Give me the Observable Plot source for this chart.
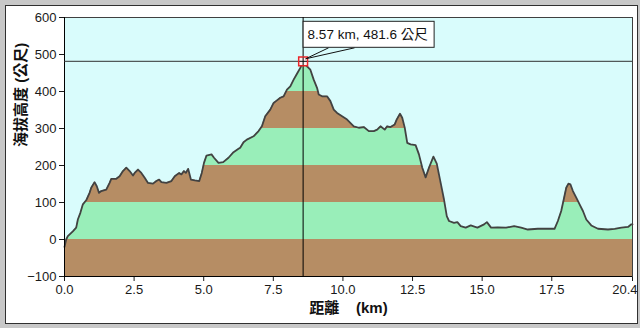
<!DOCTYPE html>
<html>
<head>
<meta charset="utf-8">
<script src="https://cdn.jsdelivr.net/npm/d3@7"></script>
<script src="https://cdn.jsdelivr.net/npm/@observablehq/plot@0.6"></script>
<style>
  html, body { margin: 0; padding: 0; background: #c8c8c8; }
  #wrap { position: relative; width: 640px; height: 328px; overflow: hidden; background: #c8c8c8; }
  #panel { position: absolute; left: 5px; top: 5px; width: 631px; height: 317px; background: #ffffff; border: 1px solid #303030; }
  #chart { position: absolute; left: 0; top: 0; }
</style>
</head>
<body>
<div id="wrap"><div id="panel"></div><div id="chart"></div></div>
<script>
// ---- data ----
const distKm = [0.0,0.06,0.12,0.3,0.42,0.48,0.57,0.66,0.78,0.9,0.96,1.08,1.16,1.24,1.32,1.5,1.62,1.68,1.86,1.98,2.1,2.22,2.34,2.46,2.52,2.64,2.76,2.88,3.0,3.18,3.3,3.4,3.48,3.66,3.84,3.96,4.12,4.2,4.29,4.36,4.44,4.54,4.68,4.84,4.93,5.01,5.1,5.28,5.37,5.53,5.7,5.89,6.07,6.25,6.31,6.43,6.55,6.79,6.97,7.09,7.21,7.39,7.51,7.63,7.75,7.87,7.99,8.11,8.23,8.35,8.47,8.57,8.71,8.83,8.95,9.07,9.13,9.25,9.43,9.55,9.67,9.79,9.97,10.15,10.39,10.57,10.75,10.93,11.11,11.23,11.35,11.5,11.59,11.71,11.86,11.93,12.05,12.13,12.22,12.31,12.43,12.61,12.73,12.85,12.97,13.09,13.25,13.37,13.51,13.63,13.73,13.81,13.99,14.11,14.23,14.41,14.59,14.83,15.07,15.17,15.32,15.56,15.86,16.15,16.4,16.64,17.0,17.36,17.6,17.72,17.84,17.93,18.02,18.1,18.17,18.26,18.38,18.5,18.62,18.74,18.92,19.16,19.52,19.76,20.0,20.24,20.36,20.4];
const elevM = [-20,0,9,22,32,54,72,95,106,126,140,155,144,126,131,135,153,164,164,171,185,194,185,173,180,189,180,167,153,151,158,162,155,153,158,171,180,176,185,180,191,162,160,158,180,207,227,230,221,207,209,221,236,245,248,263,270,279,293,306,333,351,369,376,383,387,405,414,432,448,464,481.6,468,459,432,410,392,387,387,374,351,342,333,324,306,302,304,293,293,297,306,297,306,304,311,324,340,329,302,261,257,255,230,194,168,194,224,205,153,108,63,50,45,47,36,32,38,32,41,47,32,33,32,36,32,27,29,29,29,50,77,108,140,151,149,131,113,95,77,54,38,29,27,29,32,34,41,41];
const xTicks = [0, 2.5, 5, 7.5, 10, 12.5, 15, 17.5, 20.4];
const yTicks = [-100, 0, 100, 200, 300, 400, 500, 600];
const bandLows = [-100, 0, 100, 200, 300, 400, 500];
const bandKinds = ["brown", "green", "brown", "green", "brown", "green", "brown"];
const peakKm = 8.57;
const peakElev = 481.6;
const xLabel = "距離\u00a0\u00a0\u00a0\u00a0(km)";
const yLabel = "海拔高度 (公尺)";
const peakText = "8.57 km, 481.6 公尺";

// ---- derived tables ----
const profile = distKm.map((d, i) => ({km: d, elev: elevM[i]}));
const bands = bandLows.map((lo, i) => ({lo, hi: lo + 100, kind: bandKinds[i]}));
const xMin = xTicks[0], xMax = xTicks[xTicks.length - 1];
const yMin = yTicks[0], yMax = yTicks[yTicks.length - 1];
const fmt = d3.format(".1f");

const SKY = "#d9fcfc", GREEN = "#99eeb9", BROWN = "#b68d64", LINE = "#424242";
const FONT = "'Liberation Sans', Arial, 'Noto Sans CJK TC', sans-serif";
const CJK = "'Liberation Sans', 'Noto Sans CJK TC', sans-serif";

const plot = Plot.plot({
  width: 640,
  height: 328,
  marginLeft: 64,
  marginRight: 8,
  marginTop: 17,
  marginBottom: 52,
  style: {background: "transparent", fontFamily: FONT, fontSize: "13px", color: "#1a1a1a"},
  x: {domain: [xMin, xMax], ticks: xTicks, tickFormat: d => d === xMax ? "" : fmt(d), tickSize: 5, tickPadding: 3, label: null},
  y: {domain: [yMin, yMax], ticks: yTicks, tickSize: 5, tickPadding: 3, label: null},
  marks: [
    Plot.rect(bands.filter(b => b.kind === "brown"), {x1: () => xMin, x2: () => xMax, y1: "lo", y2: "hi", fill: BROWN, inset: 0}),
    Plot.rect(bands.filter(b => b.kind === "green"), {x1: () => xMin, x2: () => xMax, y1: "lo", y2: "hi", fill: GREEN, inset: 0}),
    Plot.areaY(profile, {x: "km", y1: "elev", y2: () => yMax, fill: SKY}),
    Plot.line(profile, {x: "km", y: "elev", stroke: LINE, strokeWidth: 1.8}),
    Plot.frame({stroke: "#404040"}),
    Plot.ruleX([xMin], {stroke: "#000"}),
    Plot.ruleY([yMin], {stroke: "#000"}),
    Plot.ruleX([peakKm], {stroke: "#000", strokeWidth: 1}),
    Plot.ruleY([peakElev], {stroke: "#303030", strokeWidth: 1}),
    Plot.dot([{km: peakKm, elev: peakElev}], {x: "km", y: "elev", symbol: "square", r: 5, stroke: "#e8262a", strokeWidth: 1.5, fill: "#fff0f0"}),
    Plot.dot([{km: peakKm, elev: peakElev}], {x: "km", y: "elev", symbol: "plus", r: 2.6, stroke: "#000", strokeWidth: 1}),
    Plot.text([xMax], {x: d => d, frameAnchor: "bottom", lineAnchor: "top", dy: 8, dx: 5, textAnchor: "end", text: d => fmt(d), fill: "#1a1a1a"}),
    Plot.text([xLabel], {frameAnchor: "bottom", dy: 36, fontSize: 15, fontWeight: "bold", fontFamily: CJK, fill: "#111"}),
    Plot.text([yLabel], {frameAnchor: "left", dx: -43, rotate: -90, fontSize: 15, fontWeight: "bold", fontFamily: CJK, fill: "#111"})
  ]
});

// callout box positioned from the library's scales
const sx = plot.scale("x"), sy = plot.scale("y");
const px = sx.apply(peakKm), py = sy.apply(peakElev);
const svg = d3.select(plot);
const g = svg.append("g");
g.append("line").attr("x1", px + 26).attr("y1", py - 13).attr("x2", px + 3).attr("y2", py - 2).attr("stroke", "#111");
g.append("line").attr("x1", px + 52).attr("y1", py - 13).attr("x2", px + 3).attr("y2", py - 2).attr("stroke", "#111");
g.append("rect").attr("x", px + 0.5).attr("y", py - 39.5).attr("width", 131).attr("height", 26)
  .attr("fill", "#fff").attr("stroke", "#222");
g.append("text").attr("x", px + 5).attr("y", py - 21.5).attr("text-anchor", "start")
  .attr("font-family", CJK).attr("font-size", 13.5).attr("fill", "#111").text(peakText);

document.getElementById("chart").appendChild(plot);
</script>
</body>
</html>
